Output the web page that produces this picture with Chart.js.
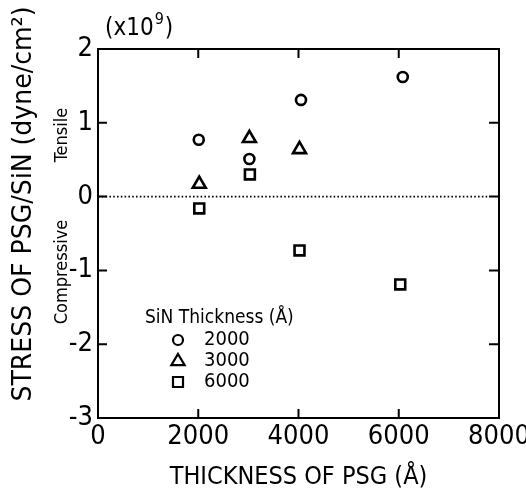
<!DOCTYPE html>
<html>
<head>
<meta charset="utf-8">
<script src="https://cdn.jsdelivr.net/npm/chart.js@4/dist/chart.umd.min.js"></script>
<style>
html, body { margin: 0; padding: 0; background: #fff; }
#wrap { width: 526px; height: 492px; }
</style>
</head>
<body>
<div id="wrap"><canvas id="chart1" width="526" height="492"></canvas></div>
<script>
// PSG thickness (Angstrom) and stress (x1e9 dyne/cm2) per SiN thickness
var psg2000 = [2010, 3020, 4050, 6080];
var stress2000 = [0.77, 0.51, 1.31, 1.62];
var psg3000 = [2020, 3020, 4020];
var stress3000 = [0.17, 0.79, 0.64];
var psg6000 = [2020, 3030, 4020, 6030];
var stress6000 = [-0.16, 0.30, -0.73, -1.19];
var sinLabels = ['2000', '3000', '6000'];
var xTicks = [0, 2000, 4000, 6000, 8000];
var yTicks = [-3, -2, -1, 0, 1, 2];

var fam = "'Liberation Sans Narrow', 'DejaVu Sans Condensed', 'Liberation Sans', sans-serif";

function toPoints(xs, ys) {
    return xs.map(function (x, i) { return { x: x, y: ys[i] }; });
}

function marker(ctx, style, x, y, r) {
    ctx.beginPath();
    if (style === 'circle') {
        ctx.arc(x, y, r, 0, Math.PI * 2);
    } else if (style === 'triangle') {
        ctx.moveTo(x, y - r);
        ctx.lineTo(x + r * 0.95, y + r * 0.6);
        ctx.lineTo(x - r * 0.95, y + r * 0.6);
        ctx.closePath();
    } else {
        ctx.rect(x - r, y - r, 2 * r, 2 * r);
    }
    ctx.stroke();
}

// frame, inside ticks, zero line and the texts that sit around the plot
var decorations = {
    id: 'decorations',
    beforeDatasetsDraw: function (chart) {
        var ctx = chart.ctx, a = chart.chartArea;
        var xs = chart.scales.x, ys = chart.scales.y;
        ctx.save();
        ctx.strokeStyle = '#000';
        ctx.lineWidth = 2;
        ctx.strokeRect(a.left, a.top, a.right - a.left, a.bottom - a.top);
        xTicks.slice(1, -1).forEach(function (v) {
            var px = xs.getPixelForValue(v);
            ctx.beginPath();
            ctx.moveTo(px, a.bottom); ctx.lineTo(px, a.bottom - 9);
            ctx.moveTo(px, a.top); ctx.lineTo(px, a.top + 9);
            ctx.stroke();
        });
        yTicks.slice(1, -1).forEach(function (v) {
            var py = ys.getPixelForValue(v);
            ctx.beginPath();
            ctx.moveTo(a.left, py); ctx.lineTo(a.left + 9, py);
            ctx.moveTo(a.right, py); ctx.lineTo(a.right - 10, py);
            ctx.stroke();
        });
        // dotted zero line
        var y0 = ys.getPixelForValue(0);
        ctx.lineWidth = 1.6;
        ctx.setLineDash([1.6, 2.2]);
        ctx.beginPath();
        ctx.moveTo(a.left, y0); ctx.lineTo(a.right - 10, y0);
        ctx.stroke();
        ctx.restore();
    },
    afterDraw: function (chart) {
        var ctx = chart.ctx;
        ctx.save();
        ctx.fillStyle = '#000';
        ctx.textAlign = 'center';
        ctx.textBaseline = 'middle';

        // y axis title, stretched to its length in the figure
        ctx.save();
        ctx.translate(24, 204);
        ctx.rotate(-Math.PI / 2);
        ctx.font = '27px ' + fam;
        var w = ctx.measureText('STRESS OF PSG/SiN (dyne/cm²)').width;
        ctx.scale(395 / w, 1);
        ctx.fillText('STRESS OF PSG/SiN (dyne/cm²)', 0, 0);
        ctx.restore();

        // Tensile / Compressive
        ctx.font = '18px ' + fam;
        ctx.save();
        ctx.translate(62, 135);
        ctx.rotate(-Math.PI / 2);
        ctx.fillText('Tensile', 0, 0);
        ctx.restore();
        ctx.save();
        ctx.translate(62, 272);
        ctx.rotate(-Math.PI / 2);
        ctx.fillText('Compressive', 0, 0);
        ctx.restore();

        // exponent
        ctx.textAlign = 'left';
        ctx.font = '24px ' + fam;
        ctx.fillText('(x10', 105, 29);
        var w1 = ctx.measureText('(x10').width;
        ctx.font = '16px ' + fam;
        ctx.fillText('9', 105 + w1 + 1, 20);
        var w2 = ctx.measureText('9').width;
        ctx.font = '24px ' + fam;
        ctx.fillText(')', 105 + w1 + w2 + 2, 29);

        // legend
        ctx.font = '19px ' + fam;
        ctx.fillText('SiN Thickness (Å)', 145, 318);
        var styles = ['circle', 'triangle', 'rect'];
        var sizes = [5, 7, 5];
        ctx.font = '20px ' + fam;
        ctx.strokeStyle = '#000';
        ctx.lineWidth = 2.2;
        sinLabels.forEach(function (lab, i) {
            var yy = 340 + i * 21;
            marker(ctx, styles[i], 178, yy, sizes[i]);
            ctx.fillText(lab, 204, yy);
        });
        ctx.restore();
    }
};

var ctx1 = document.getElementById('chart1').getContext('2d');
var myChart = new Chart(ctx1, {
    type: 'scatter',
    data: {
        datasets: [{
            label: sinLabels[0],
            data: toPoints(psg2000, stress2000),
            pointStyle: 'circle',
            pointRadius: 5,
            borderColor: '#000',
            backgroundColor: 'rgba(255,255,255,0)',
            borderWidth: 2.6
        }, {
            label: sinLabels[1],
            data: toPoints(psg3000, stress3000),
            pointStyle: 'triangle',
            pointRadius: 7.5,
            borderColor: '#000',
            backgroundColor: 'rgba(255,255,255,0)',
            borderWidth: 2.6
        }, {
            label: sinLabels[2],
            data: toPoints(psg6000, stress6000),
            pointStyle: 'rect',
            pointRadius: 7,
            borderColor: '#000',
            backgroundColor: 'rgba(255,255,255,0)',
            borderWidth: 2.6
        }]
    },
    options: {
        responsive: false,
        animation: false,
        events: [],
        layout: {
            autoPadding: false,
            padding: { left: 0, top: 49, right: 27, bottom: 0 }
        },
        plugins: {
            legend: { display: false },
            tooltip: { enabled: false }
        },
        scales: {
            x: {
                type: 'linear',
                min: 0,
                max: 8000,
                afterFit: function (scale) {
                    scale.height = 74;
                    scale.paddingLeft = 0;
                    scale.paddingRight = 0;
                },
                afterBuildTicks: function (scale) {
                    scale.ticks = xTicks.map(function (v) { return { value: v }; });
                },
                grid: { display: false, drawTicks: false },
                border: { display: false },
                ticks: {
                    padding: 3,
                    color: '#000',
                    font: { family: fam, size: 27, lineHeight: 1.2 },
                    callback: function (value) {
                        return String(value);
                    }
                },
                title: {
                    display: true,
                    text: 'THICKNESS OF PSG (Å)',
                    color: '#000',
                    padding: { top: 0, bottom: 0 },
                    font: { family: fam, size: 25, lineHeight: 1.2 }
                }
            },
            y: {
                type: 'linear',
                min: -3,
                max: 2,
                afterFit: function (scale) {
                    scale.width = 98;
                    scale.paddingTop = 0;
                    scale.paddingBottom = 0;
                },
                afterBuildTicks: function (scale) {
                    scale.ticks = yTicks.map(function (v) { return { value: v }; });
                },
                grid: { display: false, drawTicks: false },
                border: { display: false },
                ticks: {
                    padding: 5,
                    color: '#000',
                    font: { family: fam, size: 27, lineHeight: 1.2 },
                    callback: function (value) {
                        return String(value);
                    }
                }
            }
        }
    },
    plugins: [decorations]
});
</script>
</body>
</html>
